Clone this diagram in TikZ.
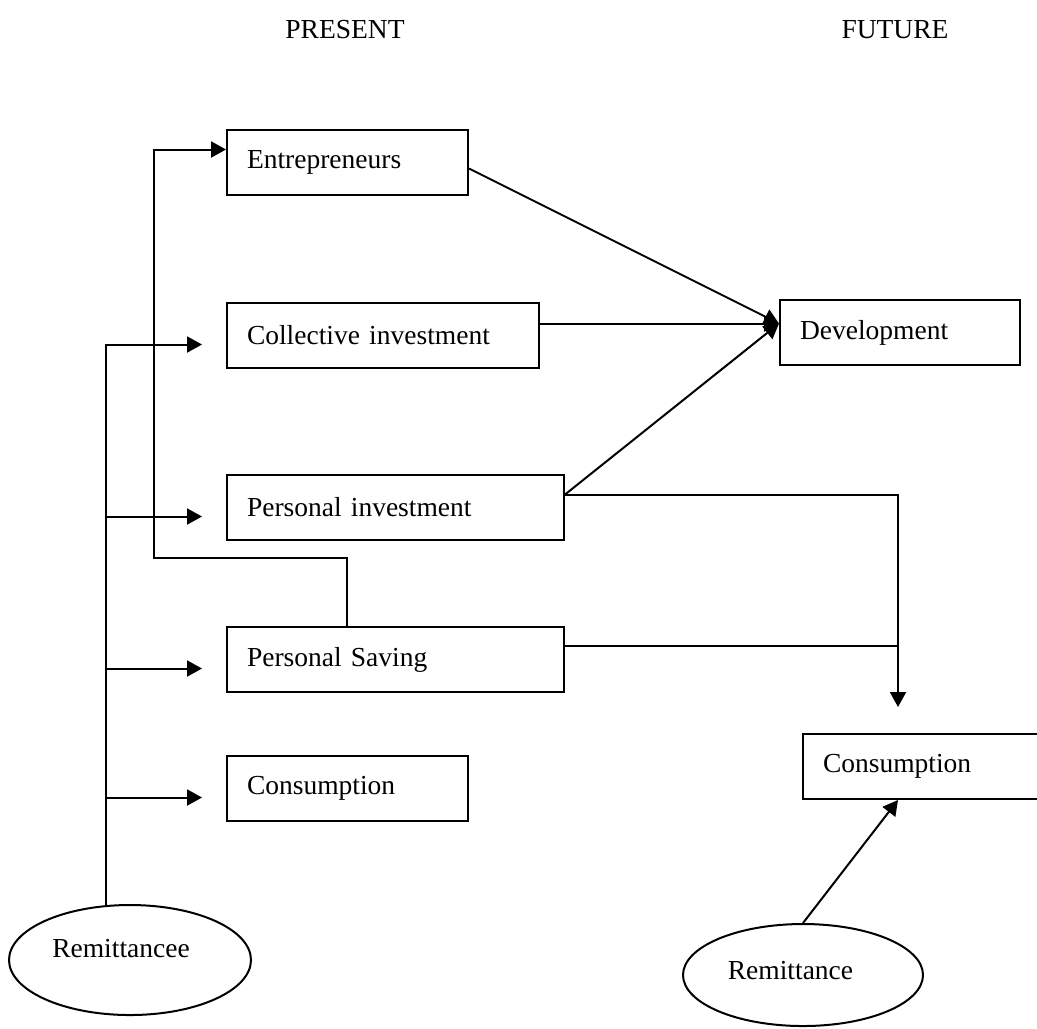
\documentclass[tikz,border=0pt]{standalone}
\usepackage{fontspec}
\setmainfont{Liberation Serif}
\usepackage{tikz}
\usetikzlibrary{shapes,arrows,arrows.meta,positioning,calc}
\usepackage{xcolor}

\begin{document}
\begin{tikzpicture}[
    x=0.4pt, y=-0.4pt,
    line width=0.8pt,
    box/.style={rectangle, draw, anchor=north west, text width=#1, align=left, minimum height=26pt, inner xsep=8pt, font=\fontsize{11}{13}\selectfont},
    oval/.style={ellipse, draw, inner sep=1pt, font=\fontsize{11}{13}\selectfont},
    title/.style={font=\fontsize{11}{13}\selectfont},
    arrow/.style={-{Triangle[length=6pt,width=6.4pt]}}
]
    \useasboundingbox (0,0) rectangle (1037,1028);
    \clip (0,0) rectangle (1037,1028);

    % Headings
    \node[title] (present) at (345,30) {PRESENT};
    \node[title] (future) at (895,30) {FUTURE};

    % Present column
    \node[box=80.4pt] (entre) at (226,129) {Entrepreneurs};
    \node[box=108.8pt] (collect) at (226,302) {Collective investment};
    \node[box=118.8pt] (persinv) at (226,474) {Personal investment};
    \node[box=118.8pt] (perssav) at (226,626) {Personal Saving};
    \node[box=80.4pt] (consL) at (226,755) {Consumption};

    % Future column
    \node[box=80pt] (dev) at (779,299) {Development};
    \node[box=88pt] (consR) at (802,733) {Consumption};

    % Remittances
    \node[oval, minimum width=96.8pt, minimum height=44pt] (remL) at (130,960) {Remittancee\hspace*{7.2pt}\rule[-9pt]{0pt}{0pt}};
    \node[oval, minimum width=96pt, minimum height=40.8pt] (remR) at (803,975) {Remittance\hspace*{10pt}\rule[-4pt]{0pt}{0pt}};

    % Helper points
    \coordinate (devin) at ([shift={(0,-9)}]dev.west);
    \coordinate (consRin) at ([shift={(96,-26)}]consR.north west);
    \coordinate (savout) at ([shift={(0,-14)}]perssav.east);
    \coordinate (loop) at (154,558);
    \foreach \n in {collect,persinv,perssav,consL}
        \coordinate (t\n) at ([shift={(-24,9)}]\n.west);

    % Remittancee feeds
    \draw[arrow] (remL.114) |- (tcollect);
    \foreach \n in {persinv,perssav,consL}
        \draw[arrow] (remL.114 |- t\n) -- (t\n);

    % Saving to entrepreneurs
    \draw[arrow] ([shift={(121,0)}]perssav.north west) |- (loop) |- ([shift={(0,-13)}]entre.west);

    % Into development
    \draw[arrow] ([shift={(0,6)}]entre.east) -- (devin);
    \draw[arrow] ([shift={(0,-12)}]collect.east) -- (devin);
    \draw[arrow] ([shift={(0,-13)}]persinv.east) -- (devin);

    % Into future consumption
    \draw[arrow] ([shift={(0,-13)}]persinv.east) -| (consRin);
    \draw (savout) -- (savout -| consRin);
    \draw[arrow] (remR.north) -- ([shift={(96,0)}]consR.south west);

\end{tikzpicture}
\end{document}
